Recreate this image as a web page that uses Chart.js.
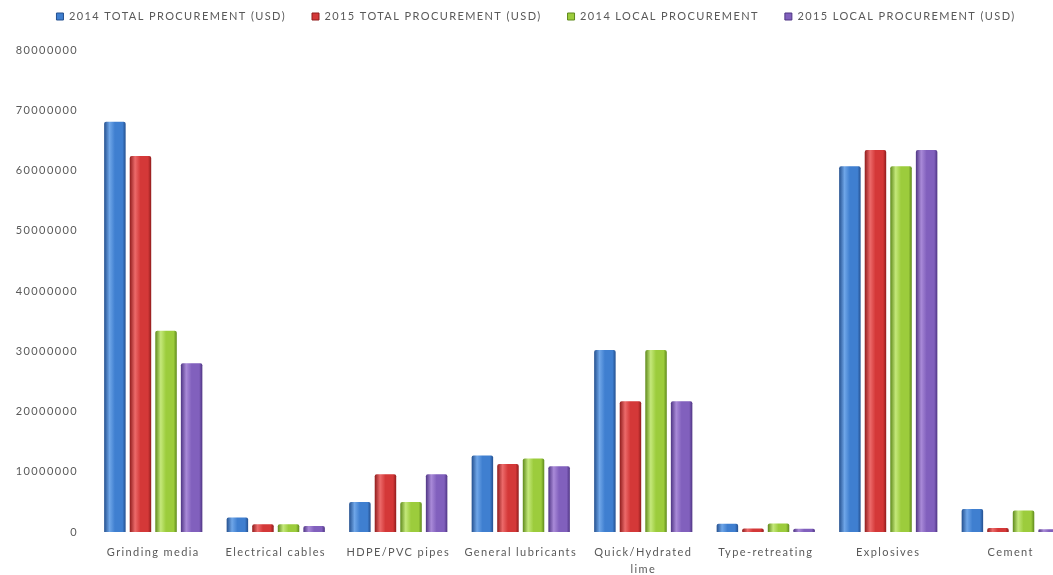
<!DOCTYPE html>
<html>
<head>
<meta charset="utf-8">
<script src="https://cdn.jsdelivr.net/npm/chart.js@4.4.0/dist/chart.umd.min.js"></script>
<style>
  html, body { margin: 0; padding: 0; background: #fff; overflow: hidden; }
  #wrap { width: 1080px; height: 575px; }
</style>
</head>
<body>
<div id="wrap"><canvas id="procurement" width="1080" height="575"></canvas></div>
<script>
var categories = ['Grinding media', 'Electrical cables', 'HDPE/PVC pipes', 'General lubricants',
    ['Quick/Hydrated', 'lime'], 'Type-retreating', 'Explosives', 'Cement'];

var total2014 = [68100000, 2400000, 5000000, 12700000, 30200000, 1350000, 60700000, 3800000];
var total2015 = [62400000, 1300000, 9600000, 11300000, 21700000, 600000, 63400000, 650000];
var local2014 = [33400000, 1300000, 5000000, 12200000, 30200000, 1400000, 60700000, 3550000];
var local2015 = [28000000, 1000000, 9600000, 10900000, 21700000, 550000, 63400000, 450000];

var seriesNames = ['2014 TOTAL PROCUREMENT (USD)', '2015 TOTAL PROCUREMENT (USD)',
    '2014 LOCAL PROCUREMENT', '2015 LOCAL PROCUREMENT (USD)'];

var yTicks = [0, 10000000, 20000000, 30000000, 40000000, 50000000, 60000000, 70000000, 80000000];

// edge / middle / highlight shades for the cylinder look
var shades = [
    { flat: '#3d78c8', dark: '#24508f', mid: '#3f7fd0', light: '#6fa6e8' },
    { flat: '#d03535', dark: '#901c1c', mid: '#d43838', light: '#ec6a6a' },
    { flat: '#99c93a', dark: '#5f8a1c', mid: '#9ccc3c', light: '#c4e87a' },
    { flat: '#7d58b8', dark: '#4f3584', mid: '#8160bd', light: '#a98ad8' }
];

function barFill(ctx) {
    var s = shades[ctx.datasetIndex];
    var chart = ctx.chart;
    var el = chart.getDatasetMeta(ctx.datasetIndex).data[ctx.dataIndex];
    if (!el || el.x === undefined || !el.width) return s.flat;
    var x0 = el.x - el.width / 2, x1 = el.x + el.width / 2;
    var g = chart.ctx.createLinearGradient(x0, 0, x1, 0);
    g.addColorStop(0, s.dark);
    g.addColorStop(0.25, s.light);
    g.addColorStop(0.5, s.mid);
    g.addColorStop(0.85, s.mid);
    g.addColorStop(1, s.dark);
    return g;
}

var allData = [total2014, total2015, local2014, local2015];
var datasets = allData.map(function (arr, i) {
    return {
        label: seriesNames[i],
        data: arr,
        backgroundColor: barFill,
        borderWidth: 0,
        borderRadius: { topLeft: 2, topRight: 2 },
        borderSkipped: 'bottom',
        categoryPercentage: 0.835,
        barPercentage: 0.84
    };
});

var txt = '#595959';
var fontFam = 'Lato';

// the original text is set wide, so spread the letters a little
var spacing = {
    id: 'spacing',
    beforeUpdate: function (c) { c.ctx.letterSpacing = '1.4px'; },
    beforeDraw: function (c) { c.ctx.letterSpacing = '1.4px'; }
};

var chart = new Chart(document.getElementById('procurement').getContext('2d'), {
    type: 'bar',
    data: { labels: categories, datasets: datasets },
    plugins: [spacing],
    options: {
        responsive: false,
        animation: false,
        layout: { padding: { top: -15, right: 8, left: 0, bottom: 0 } },
        plugins: {
            legend: {
                position: 'top',
                labels: {
                    color: txt,
                    font: { family: fontFam, size: 11 },
                    boxWidth: 7,
                    boxHeight: 7,
                    padding: 26,
                    generateLabels: function (c) {
                        return c.data.datasets.map(function (d, i) {
                            return {
                                text: d.label,
                                fillStyle: shades[i].mid,
                                strokeStyle: shades[i].dark,
                                lineWidth: 1,
                                datasetIndex: i,
                                fontColor: txt
                            };
                        });
                    }
                }
            },
            tooltip: { enabled: false }
        },
        scales: {
            x: {
                grid: { display: false, drawTicks: false },
                border: { display: false },
                ticks: { color: txt, font: { family: fontFam, size: 11, lineHeight: 1.55 }, padding: 12, maxRotation: 0, autoSkip: false },
                afterFit: function (scale) { scale.height = 43; }
            },
            y: {
                min: 0,
                max: 80000000,
                grid: { display: false, drawTicks: false },
                border: { display: false },
                afterBuildTicks: function (scale) {
                    scale.ticks = yTicks.map(function (v) { return { value: v }; });
                },
                ticks: {
                    color: txt,
                    font: { family: fontFam, size: 11 },
                    padding: 14,
                    callback: function (v) { return String(v); }
                },
                afterFit: function (scale) { scale.width = 92; }
            }
        }
    }
});

// keep the legend text near the top edge but push the plot down to where it sits in the original
var legendFit = chart.legend.fit;
chart.legend.fit = function () {
    legendFit.call(this);
    this.height += 18;
};
chart.update('none');
</script>
</body>
</html>
